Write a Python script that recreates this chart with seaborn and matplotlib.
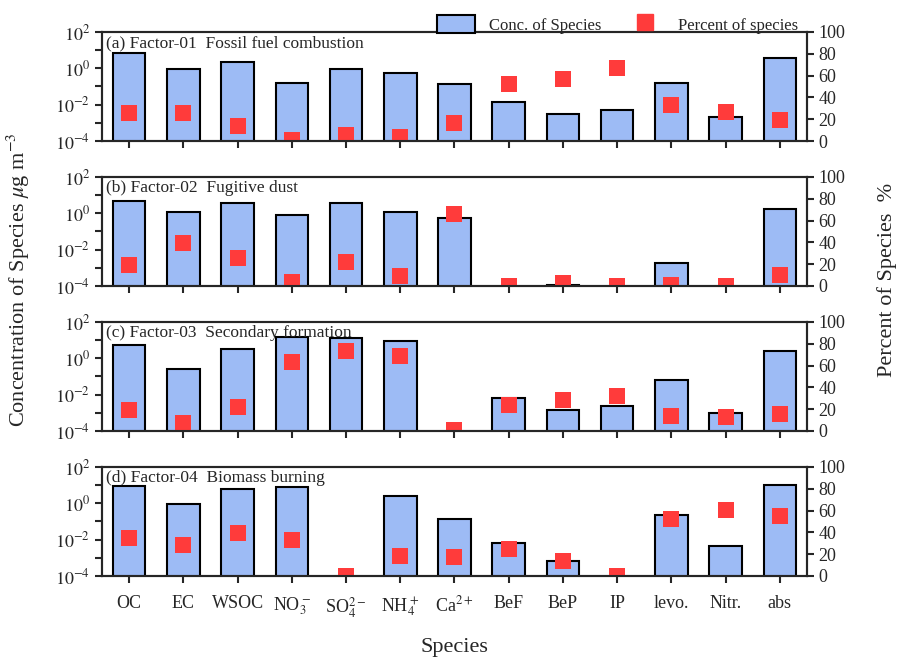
import numpy as np
import pandas as pd
import seaborn as sns
from matplotlib import pyplot as plt
from matplotlib.patches import Patch
from matplotlib.lines import Line2D

# species on the x axis
species = ['OC', 'EC', 'WSOC', 'NO$_3^-$', 'SO$_4^{2-}$', 'NH$_4^+$', 'Ca$^{2+}$',
           'BeF', 'BeP', 'IP', 'levo.', 'Nitr.', 'abs']

titles = ['(a) Factor-01  Fossil fuel combustion',
          '(b) Factor-02  Fugitive dust',
          '(c) Factor-03  Secondary formation',
          '(d) Factor-04  Biomass burning']

nan = np.nan
# concentration of species (ug m-3)
conc_f1 = [6.9, 0.9, 2.1, 0.15, 0.9, 0.53, 0.13, 0.014, 0.0031, 0.005, 0.155, 0.002, 3.5]
conc_f2 = [4.6, 1.2, 3.7, 0.78, 3.7, 1.2, 0.55, nan, 1.2e-4, nan, 0.0019, nan, 1.66]
conc_f3 = [5.1, 0.26, 3.4, 14, 13, 9.4, nan, 0.0066, 0.0014, 0.0024, 0.06, 0.00098, 2.6]
conc_f4 = [9.4, 0.91, 6.4, 7.6, nan, 2.5, 0.13, 0.0069, 0.00068, nan, 0.22, 0.0046, 9.7]

# percent of species (%)
pct_f1 = [26, 25.5, 13.5, 1, 5.5, 3.7, 16.6, 52.7, 57, 67, 33.4, 26.4, 19]
pct_f2 = [19, 39, 25.4, 3.7, 22.4, 9.5, 66.4, 0, 2.5, 0, 1, 0, 10]
pct_f3 = [19.6, 7.4, 22, 63, 73, 69, 0.5, 24, 28, 32.5, 14, 13, 16]
pct_f4 = [35, 28, 39.5, 33, 0, 18.4, 17.8, 25, 13.8, 0, 52.4, 60.4, 54.6]

conc = [conc_f1, conc_f2, conc_f3, conc_f4]
pct = [pct_f1, pct_f2, pct_f3, pct_f4]

bar_color = '#9dbbf5'
red = '#ff3b3b'

sns.set_style('ticks')
plt.rcParams['font.family'] = ['Liberation Serif', 'DejaVu Serif']
plt.rcParams['mathtext.fontset'] = 'stix'

fig = plt.figure(figsize=(8.98, 6.62), dpi=100)

left, width, height = 0.1136, 0.785, 0.1647
bottoms = [0.787, 0.568, 0.349, 0.130]

for i in range(4):
    ax = fig.add_axes([left, bottoms[i], width, height])
    ax.set_yscale('log')
    df = pd.DataFrame({'species': species, 'conc': conc[i]})
    sns.barplot(data=df, x='species', y='conc', order=species, ax=ax,
                color=bar_color, edgecolor='black', linewidth=1.5,
                width=0.6, saturation=1, errorbar=None)
    ax.set_ylim(1e-4, 1e2)
    ax.set_xlim(-0.5, 12.5)
    ax.set_yticks([1e-4, 1e-3, 1e-2, 1e-1, 1, 10, 100])
    ax.set_yticklabels(['$10^{-4}$', '', '$10^{-2}$', '', '$10^{0}$', '', '$10^{2}$'])
    ax.yaxis.set_minor_locator(plt.NullLocator())
    ax.set_xticks(range(len(species)))
    ax.set_xlabel('')
    ax.set_ylabel('')
    if i < 3:
        ax.set_xticklabels([])
    else:
        ax.set_xticklabels(species)
    ax.tick_params(direction='out', length=5, width=1.5, labelsize=13)
    ax.tick_params(axis='x', pad=9)
    for s in ax.spines.values():
        s.set_linewidth(1.5)
    ax.text(0.005, 0.97, titles[i], transform=ax.transAxes, fontsize=12.5,
            va='top', ha='left')

    ax2 = ax.twinx()
    sns.scatterplot(x=np.arange(len(species)), y=pct[i], ax=ax2, marker='s',
                    s=120, color=red, linewidth=0, legend=False)
    ax2.set_ylim(0, 100)
    ax2.set_yticks([0, 20, 40, 60, 80, 100])
    ax2.tick_params(direction='out', length=5, width=1.5, labelsize=13)
    for s in ax2.spines.values():
        s.set_linewidth(1.5)

fig.text(0.02, 0.577, 'Concentration of Species $\\mu$g m$^{-3}$', rotation=90,
         fontsize=16, ha='center', va='center')
fig.text(0.988, 0.577, 'Percent of Species  %', rotation=90,
         fontsize=16, ha='center', va='center')
fig.text(0.506, 0.022, 'Species', fontsize=16, ha='center', va='center')

handles = [Patch(facecolor=bar_color, edgecolor='black', linewidth=1.5),
           Line2D([], [], marker='s', color=red, linestyle='', markersize=11)]
fig.legend(handles, ['Conc. of Species', 'Percent of species'], ncol=2,
           loc='upper right', bbox_to_anchor=(0.905, 1.0), frameon=False,
           fontsize=12, handlelength=2.3, handleheight=1.3, columnspacing=1.5)

fig.savefig('out.png', dpi=100)
